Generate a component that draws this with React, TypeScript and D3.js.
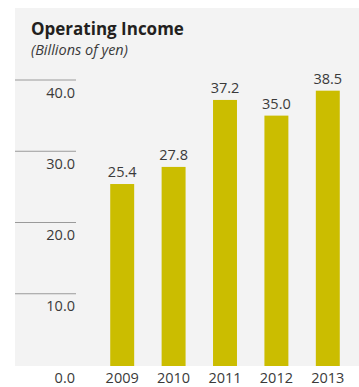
import React from "react";
import * as d3 from "d3";

const years = ["2009", "2010", "2011", "2012", "2013"];
const values = [25.4, 27.8, 37.2, 35.0, 38.5];
const yTicks = [0, 10, 20, 30, 40];

const W = 359;
const H = 387;
const font = "'Open Sans', 'Noto Sans', sans-serif";

export default function App() {
  const x = d3.scaleBand<string>().domain(years).range([96.5, 353.5]).paddingInner(0.534).paddingOuter(0.267);
  const y = d3.scaleLinear().domain([0, 40]).range([365, 80]);
  return (
    <svg width={W} height={H} style={{ position: "absolute", left: 0, top: 0, display: "block" }}>
      <rect x={0} y={0} width={W} height={H} fill="#ffffff" />
      <rect x={15} y={8} width={W - 15} height={358} fill="#f3f3f3" />
      <text x={31} y={35} fontFamily={font} fontWeight={700} fontSize={17} fill="#231f20">Operating Income</text>
      <text x={31} y={55} fontFamily={font} fontStyle="italic" fontSize={14.5} fill="#3a3a3a">(Billions of yen)</text>
      {yTicks.map((t) => (
        <g key={t}>
          {t > 0 && <line x1={15} x2={76} y1={y(t)} y2={y(t)} stroke="#9a9a9a" strokeWidth={1} />}
          <text x={75} y={t > 0 ? y(t) + 17.5 : 383} textAnchor="end" fontFamily={font} fontSize={14.5} fill="#3a3a3a">
            {t.toFixed(1)}
          </text>
        </g>
      ))}
      {years.map((yr, i) => (
        <g key={yr}>
          <rect x={x(yr)} y={y(values[i])} width={x.bandwidth()} height={y(0) - y(values[i]) + 1} fill="#cbbd00" />
          <text x={(x(yr) as number) + x.bandwidth() / 2} y={y(values[i]) - 7} textAnchor="middle" fontFamily={font} fontSize={14.5} fill="#3a3a3a">
            {values[i].toFixed(1)}
          </text>
          <text x={(x(yr) as number) + x.bandwidth() / 2} y={383} textAnchor="middle" fontFamily={font} fontSize={14.5} fill="#3a3a3a">
            {yr}
          </text>
        </g>
      ))}
    </svg>
  );
}
